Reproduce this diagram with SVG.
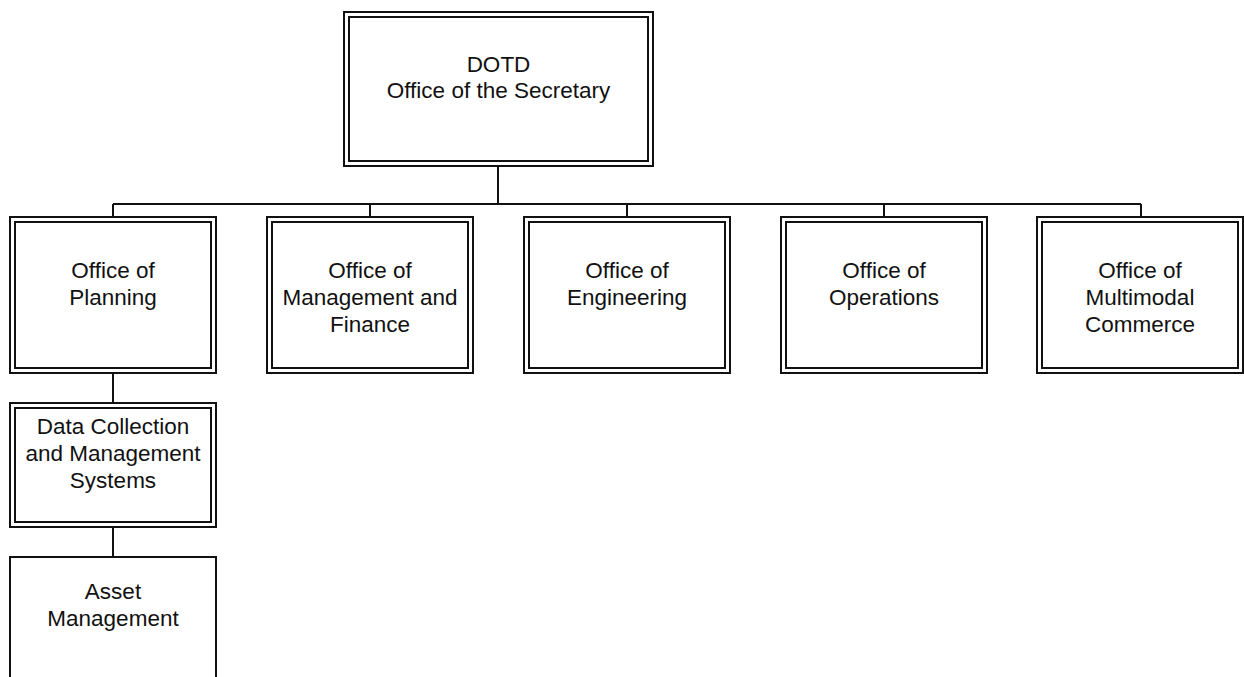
<svg xmlns="http://www.w3.org/2000/svg" width="1244" height="677" viewBox="0 0 1244 677">
<style>
.o{fill:#fff;stroke:#111;stroke-width:2}
.i{fill:none;stroke:#111;stroke-width:2}
.c{fill:none;stroke:#111;stroke-width:2}
text{font-family:"Liberation Sans",Arial,sans-serif;font-size:22.5px;fill:#111;text-anchor:middle}
</style>
<rect width="1244" height="677" fill="#fff"/>
<g id="connectors">
<path class="c" d="M498 166V204M113 204H1141M113 204V217M370 204V217M627 204V217M884 204V217M1141 204V217M113 373V403M113 527V557"/>
</g>
<g id="secretary">
<rect class="o" x="344" y="12" width="309" height="154"/>
<rect class="i" x="349" y="17" width="299" height="144"/>
<text x="498.5" y="72">DOTD</text>
<text x="498.5" y="98">Office of the Secretary</text>
</g>
<g id="planning">
<rect class="o" x="10" y="217" width="206" height="156"/>
<rect class="i" x="15" y="222" width="196" height="146"/>
<text x="113" y="278">Office of</text>
<text x="113" y="305">Planning</text>
</g>
<g id="management">
<rect class="o" x="267" y="217" width="206" height="156"/>
<rect class="i" x="272" y="222" width="196" height="146"/>
<text x="370" y="278">Office of</text>
<text x="370" y="305">Management and</text>
<text x="370" y="332">Finance</text>
</g>
<g id="engineering">
<rect class="o" x="524" y="217" width="206" height="156"/>
<rect class="i" x="529" y="222" width="196" height="146"/>
<text x="627" y="278">Office of</text>
<text x="627" y="305">Engineering</text>
</g>
<g id="operations">
<rect class="o" x="781" y="217" width="206" height="156"/>
<rect class="i" x="786" y="222" width="196" height="146"/>
<text x="884" y="278">Office of</text>
<text x="884" y="305">Operations</text>
</g>
<g id="multimodal">
<rect class="o" x="1037" y="217" width="206" height="156"/>
<rect class="i" x="1042" y="222" width="196" height="146"/>
<text x="1140" y="278">Office of</text>
<text x="1140" y="305">Multimodal</text>
<text x="1140" y="332">Commerce</text>
</g>
<g id="datacollection">
<rect class="o" x="10" y="403" width="206" height="124"/>
<rect class="i" x="15" y="408" width="196" height="114"/>
<text x="113" y="434">Data Collection</text>
<text x="113" y="461">and Management</text>
<text x="113" y="488">Systems</text>
</g>
<g id="asset">
<rect class="o" x="10" y="557" width="206" height="140"/>
<text x="113" y="599">Asset</text>
<text x="113" y="626">Management</text>
</g>
</svg>
